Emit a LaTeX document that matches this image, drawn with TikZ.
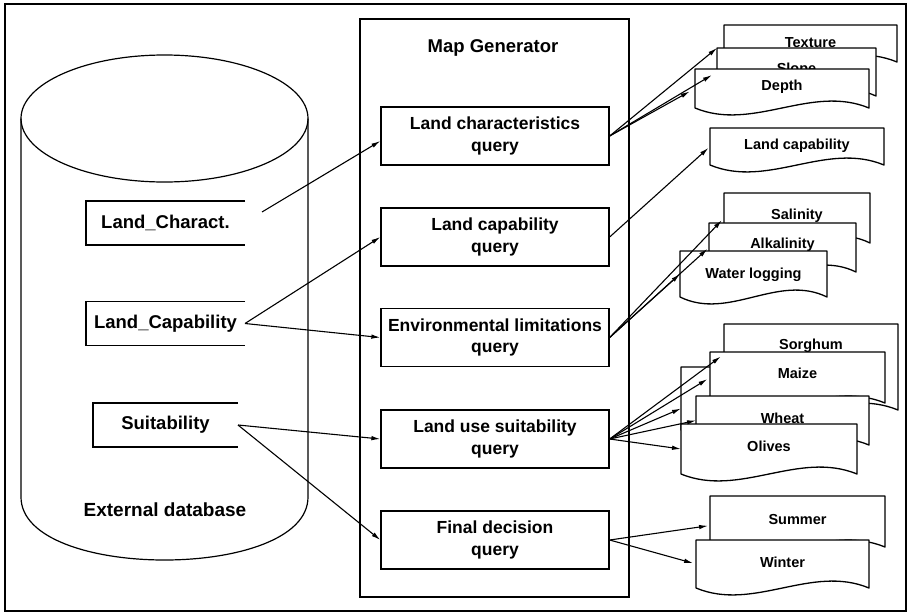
\documentclass[tikz,border=0pt]{standalone}
\usepackage{fontspec}
\setmainfont{Liberation Sans}
\usetikzlibrary{arrows.meta,calc}
\newcommand\qfont{\fontsize{17.5}{21.5}\selectfont\bfseries}
\newcommand\dfont{\fontsize{14.5}{16}\selectfont\bfseries}
\newcommand\lfont{\fontsize{18.5}{22}\selectfont\bfseries}
\tikzset{
  query/.style={draw, line width=1.3pt, minimum width=228pt, minimum height=58pt, inner sep=0pt, align=center, font=\qfont},
  docrect/.style={draw=none, inner sep=0pt, outer sep=0pt},
  docline/.style={draw=black, fill=white, line width=1.3pt, line join=round},
  doctext/.style={font=\dfont, inner sep=0pt},
  dblabel/.style={draw=none, inner sep=0pt, outer sep=0pt, minimum height=44pt, font=\lfont},
  arr/.style={line width=1.1pt, -{Latex[length=9pt,width=4.5pt]}},
}
\newcommand\docbox[7]{%
  \node[docrect, minimum width={#4-#2}, minimum height={#5-#3}] (#1) at ({(#2+#4)/2},{(#3+#5)/2}) {};
  \filldraw[docline] (#1.south west) -- (#1.north west) -- (#1.north east) -- (#1.south east)
    .. controls +({-(#4-#2)/3},-24) and +({(#4-#2)/3},24) .. (#1.south west) -- cycle;
  \node[doctext] (#1-t) at ({(#2+#4)/2},#6) {#7};
}
\begin{document}
\begin{tikzpicture}[x=1pt,y=-1pt]
\useasboundingbox (0,0) rectangle (912,613);
\draw[line width=1.6pt] (5,4) rectangle (906,611);

% cylinder
\draw[line width=1.2pt] (164.5,118.5) ellipse [x radius=143.5, y radius=63.5];
\draw[line width=1.2pt] (21,118.5) -- (21,497) .. controls (21,581) and (308,581) .. (308,497) -- (308,118.5);
\node[font=\fontsize{19}{22}\selectfont\bfseries] (extdb) at (165,510) {External database};

\node[dblabel, minimum width=159pt] (lc) at (165.5,223) {Land\_Charact.};
\node[dblabel, minimum width=159pt] (lcap) at (165.5,323.5) {Land\_Capability};
\node[dblabel, minimum width=145pt] (suit) at (165.5,425) {Suitability};
\foreach \n in {lc,lcap,suit}
  \draw[line width=1.2pt] (\n.north east) -- (\n.north west) -- (\n.south west) -- (\n.south east);
\coordinate (lc-o) at (262,212);

% map generator
\draw[line width=1.4pt] (360,19) rectangle (629,597);
\node[font=\fontsize{18.5}{22}\selectfont\bfseries] (mg) at (493,48) {Map Generator};
\node[query] (lcq) at (495,136) {Land characteristics\\query};
\node[query] (lcapq) at (495,237) {Land capability\\query};
\node[query] (elq) at (495,337.5) {Environmental limitations\\query};
\node[query] (lusq) at (495,439) {Land use suitability\\query};
\node[query] (fdq) at (495,540) {Final decision\\query};

% documents
\docbox{texture}{724}{25}{897}{62}{43}{Texture}
\docbox{slope}{717}{48}{876}{96}{70}{Slope}
\docbox{depth}{695}{69}{869}{108}{87}{Depth}
\docbox{landcap}{710}{128}{884}{165}{146}{Land capability}
\docbox{salinity}{724}{193}{870}{243}{216}{Salinity}
\docbox{alkalinity}{709}{223}{856}{272}{245}{Alkalinity}
\docbox{waterlog}{680}{251}{827}{297}{275}{Water logging}
\docbox{sorghum}{724}{324}{898}{410}{346}{Sorghum}
\docbox{hidden}{681}{367}{855}{430}{398}{}
\docbox{maize}{710}{352}{885}{403}{373}{Maize}
\docbox{wheat}{696}{396}{869}{445}{418}{Wheat}
\docbox{olives}{681}{424}{857}{474}{446}{Olives}
\docbox{summer}{710}{496}{885}{547}{519}{Summer}
\docbox{winter}{696}{540}{869}{588}{562}{Winter}

% left arrows
\draw[arr] (lc-o) -- ($(lcq.west)+(0,5)$);
\draw[arr] (lcap.east) -- (lcapq.west);
\draw[arr] (lcap.east) -- (elq.west);
\draw[arr] (suit.east) -- (lusq.west);
\draw[arr] (suit.east) -- (fdq.west);

% right arrows
\draw[arr] (lcq.east) -- (slope.north west);
\draw[arr, shorten >=6pt] (lcq.east) -- (slope.west);
\draw[arr, shorten >=6pt] (lcq.east) -- (depth.west);
\draw[arr, shorten >=2pt] (lcapq.east) -- (landcap.west);
\draw[arr, shorten >=3pt] (elq.east) -- (salinity.west);
\draw[arr, shorten >=2pt] (elq.east) -- (alkalinity.west);
\draw[arr] (elq.east) -- (waterlog.west);
\draw[arr, shorten >=4pt] (lusq.east) -- ($(sorghum.north west)!0.35!(sorghum.south west)$);
\draw[arr, shorten >=3pt] (lusq.east) -- (maize.west);
\draw[arr] (lusq.east) -- ($(hidden.west)+(0,10)$);
\draw[arr] (lusq.east) -- (wheat.west);
\draw[arr] (lusq.east) -- (olives.west);
\draw[arr, shorten >=2pt] (fdq.east) -- ($(summer.west)+(0,4)$);
\draw[arr, shorten >=3pt] (fdq.east) -- (winter.west);
\end{tikzpicture}
\end{document}
